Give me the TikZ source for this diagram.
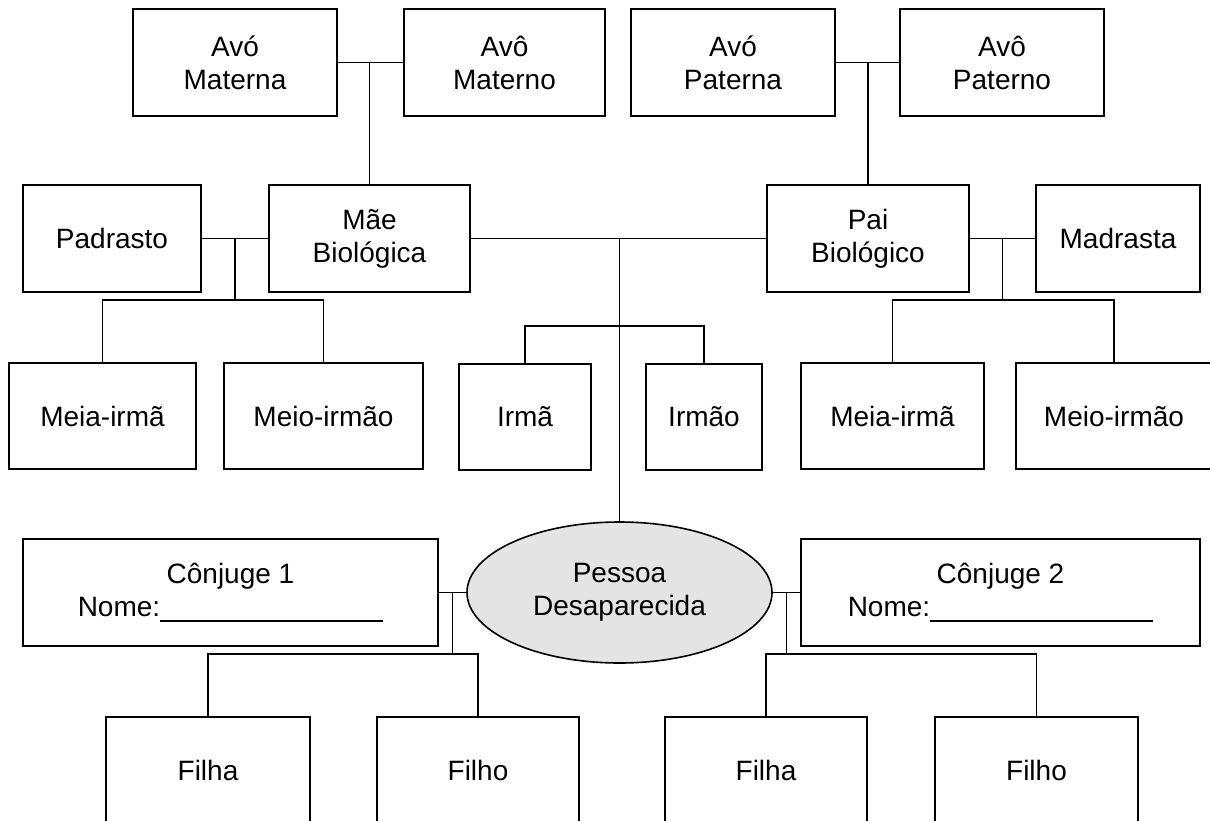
\documentclass[tikz,border=0pt]{standalone}
\usepackage{fontspec}
\setmainfont{Liberation Sans}
\usetikzlibrary{shapes.geometric,calc}

\tikzset{
  pessoabox/.style={draw, line width=1.6pt, inner sep=0pt, align=center,
    font=\fontsize{28}{33}\selectfont},
  liga/.style={line width=1.7pt}
}

\begin{document}
\begin{tikzpicture}[x=1pt,y=-1pt]
        \useasboundingbox (0,0) rectangle (1210,820);
        \clip (0,0) rectangle (1210,820);

        % avos
        \node[pessoabox, minimum width=204, minimum height=107] (avoMaterna) at (235,62.5) {Avó\\Materna};
        \node[pessoabox, minimum width=201, minimum height=107] (avoMaterno) at (504.5,62.5) {Avô\\Materno};
        \node[pessoabox, minimum width=204, minimum height=107] (avoPaterna) at (733,62.5) {Avó\\Paterna};
        \node[pessoabox, minimum width=204, minimum height=107] (avoPaterno) at (1002,62.5) {Avô\\Paterno};

        % pais
        \node[pessoabox, minimum width=178, minimum height=107] (padrasto) at (112,238.5) {Padrasto};
        \node[pessoabox, minimum width=201, minimum height=107] (mae) at (369.5,238.5) {Mãe\\Biológica};
        \node[pessoabox, minimum width=202, minimum height=107] (pai) at (868,238.5) {Pai\\Biológico};
        \node[pessoabox, minimum width=164, minimum height=107] (madrasta) at (1118,238.5) {Madrasta};

        % irmaos
        \node[pessoabox, minimum width=187, minimum height=106] (meiaIrmaL) at (102.5,416) {Meia-irmã};
        \node[pessoabox, minimum width=199, minimum height=106] (meioIrmaoL) at (323.5,416) {Meio-irmão};
        \node[pessoabox, minimum width=132, minimum height=106] (irma) at (525,417) {Irmã};
        \node[pessoabox, minimum width=116, minimum height=106] (irmao) at (704,417) {Irmão};
        \node[pessoabox, minimum width=183, minimum height=106] (meiaIrmaR) at (892.5,416) {Meia-irmã};
        \node[pessoabox, minimum width=196, minimum height=106] (meioIrmaoR) at (1114,416) {Meio-irmão};

        % pessoa e conjuges
        \node[pessoabox, minimum width=415, minimum height=107] (conjuge1) at (230.5,592.5)
            {Cônjuge 1\\Nome:\rule[-5pt]{223pt}{1.3pt}};
        \node[pessoabox, ellipse, fill={rgb,255:red,228;green,228;blue,228},
            minimum width=305, minimum height=141] (pessoa) at (619.5,592.5) {Pessoa\\Desaparecida};
        \node[pessoabox, minimum width=399, minimum height=107] (conjuge2) at (1000.5,592.5)
            {Cônjuge 2\\Nome:\rule[-5pt]{223pt}{1.3pt}};

        % filhos
        \node[pessoabox, minimum width=204, minimum height=106] (filhaL) at (208,770) {Filha};
        \node[pessoabox, minimum width=202, minimum height=106] (filhoL) at (478,770) {Filho};
        \node[pessoabox, minimum width=202, minimum height=106] (filhaR) at (766,770) {Filha};
        \node[pessoabox, minimum width=203, minimum height=106] (filhoR) at (1036.5,770) {Filho};

        % ligacoes
        \draw[liga] (avoMaterna.east) -- (avoMaterno.west);
        \draw[liga] (mae.north |- avoMaterna.east) -- (mae.north);
        \draw[liga] (avoPaterna.east) -- (avoPaterno.west);
        \draw[liga] (pai.north |- avoPaterna.east) -- (pai.north);

        \coordinate (jMae) at ($(padrasto.east)!0.5!(mae.west)$);
        \draw[liga] (padrasto.east) -- (mae.west);
        \draw[liga] (meiaIrmaL.north) -- ++(0,-62) coordinate (barL) -| (meioIrmaoL.north);
        \draw[liga] (jMae) -- (jMae |- barL);

        \coordinate (jPai) at ($(pai.east)!0.5!(madrasta.west)$);
        \draw[liga] (pai.east) -- (madrasta.west);
        \draw[liga] (meiaIrmaR.north) -- ++(0,-62) coordinate (barR) -| (meioIrmaoR.north);
        \draw[liga] (jPai) -- (jPai |- barR);

        \draw[liga] (mae.east) -- (pai.west);
        \draw[liga] (pessoa.north |- mae.east) -- (pessoa.north);
        \draw[liga] (irma.north) -- ++(0,-37) -| (irmao.north);

        \coordinate (jC1) at ($(conjuge1.east)!0.5!(pessoa.west)$);
        \draw[liga] (conjuge1.east) -- (pessoa.west);
        \draw[liga] (filhaL.north) -- ++(0,-62) coordinate (barC1) -| (filhoL.north);
        \draw[liga] (jC1) -- (jC1 |- barC1);

        \coordinate (jC2) at ($(pessoa.east)!0.5!(conjuge2.west)$);
        \draw[liga] (pessoa.east) -- (conjuge2.west);
        \draw[liga] (filhaR.north) -- ++(0,-62) coordinate (barC2) -| (filhoR.north);
        \draw[liga] (jC2) -- (jC2 |- barC2);
\end{tikzpicture}
\end{document}
